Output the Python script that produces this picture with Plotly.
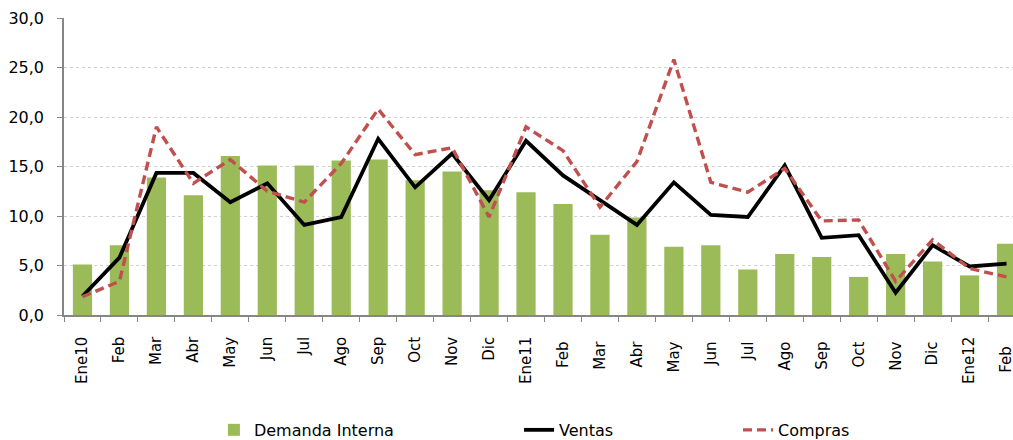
import plotly.graph_objects as go

categories = ["Ene10", "Feb", "Mar", "Abr", "May", "Jun", "Jul", "Ago", "Sep", "Oct", "Nov", "Dic",
              "Ene11", "Feb ", "Mar ", "Abr ", "May ", "Jun ", "Jul ", "Ago ", "Sep ", "Oct ", "Nov ", "Dic ",
              "Ene12", "Feb  "]
demanda_interna = [5.1, 7.05, 13.9, 12.1, 16.05, 15.1, 15.1, 15.6, 15.7, 13.6, 14.5, 12.6,
                   12.4, 11.2, 8.1, 9.85, 6.9, 7.05, 4.6, 6.15, 5.85, 3.85, 6.15, 5.4, 4.0, 7.2]
ventas = [1.9, 5.8, 14.35, 14.35, 11.4, 13.3, 9.1, 9.9, 17.8, 12.9, 16.3, 11.6,
          17.6, 14.1, 11.6, 9.1, 13.4, 10.1, 9.9, 15.1, 7.8, 8.06, 2.25, 7.05, 4.9, 5.2]
compras = [1.85, 3.4, 19.0, 13.3, 15.7, 12.5, 11.4, 15.3, 20.8, 16.2, 16.9, 9.9,
           19.0, 16.6, 10.9, 15.5, 25.8, 13.4, 12.4, 14.8, 9.5, 9.6, 3.4, 7.6, 4.7, 3.85]
y_ticks = [0, 5, 10, 15, 20, 25, 30]

fig = go.Figure()
fig.add_trace(go.Bar(x=categories, y=demanda_interna, name="Demanda Interna",
                     marker=dict(color="#9BBB59", line=dict(width=0)), legend="legend"))
fig.add_trace(go.Scatter(x=categories, y=ventas, name="Ventas", mode="lines",
                         line=dict(color="#000000", width=3.8), legend="legend2"))
fig.add_trace(go.Scatter(x=categories, y=compras, name="Compras", mode="lines",
                         line=dict(color="#C0504D", width=3.4, dash="9px,5px"), legend="legend3"))

legend_font = dict(family="DejaVu Sans", size=16, color="#000000")
legend_common = dict(orientation="h", yanchor="middle", y=-0.387, xanchor="left",
                     font=legend_font, bgcolor="rgba(0,0,0,0)", borderwidth=0,
                     tracegroupgap=0)

fig.update_layout(
    width=1013, height=440,
    margin=dict(l=64, r=0, t=18, b=125, autoexpand=False),
    paper_bgcolor="white", plot_bgcolor="white",
    separators=",.",
    bargap=0.48,
    showlegend=True,
    legend=dict(x=0.158, **legend_common),
    legend2=dict(x=0.4795, **legend_common),
    legend3=dict(x=0.7102, **legend_common),
    xaxis=dict(
        type="category", range=[-0.5, 25.175], automargin=False,
        tickangle=-90, tickson="boundaries", ticks="outside", ticklen=5,
        tickcolor="#868686", showline=True, linecolor="#868686", linewidth=1.5,
        tickfont=dict(family="DejaVu Sans", size=15, color="#000000"),
        ticklabelstandoff=14, ticklabeloverflow="allow",
        showgrid=False, zeroline=False,
    ),
    yaxis=dict(
        range=[0, 30], tickvals=y_ticks, tickformat=".1f", automargin=False,
        ticks="outside", ticklen=5, tickcolor="#868686",
        showline=True, linecolor="#868686", linewidth=1.5,
        showgrid=True, gridcolor="#D0D0D0", griddash="dot", gridwidth=1,
        zeroline=False, ticklabelstandoff=10,
        tickfont=dict(family="DejaVu Sans", size=16, color="#000000"),
    ),
)

fig.write_html(
    "out.html",
    config={"displayModeBar": False},
    post_script="document.body.style.margin='0';document.body.style.overflow='hidden';",
)
